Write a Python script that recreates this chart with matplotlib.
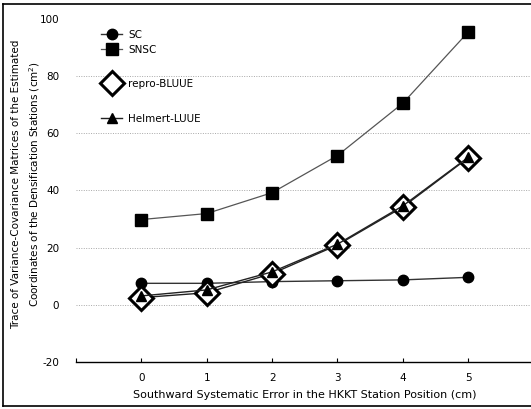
import matplotlib.pyplot as plt
from matplotlib.lines import Line2D

plt.rcParams['font.family'] = ['DejaVu Sans']

# Southward error at HKKT (cm) and trace of the VC matrices (cm^2)
error_cm = [0, 1, 2, 3, 4, 5]
sc = [7.5, 7.5, 8.1, 8.4, 8.7, 9.6]
snsc = [29.8, 31.9, 39.2, 52.2, 70.5, 95.4]
repro_bluue = [2.5, 4.2, 10.9, 20.9, 34.2, 51.4]
helmert_luue = [3.1, 5.2, 11.5, 21.2, 34.6, 51.6]

y_ticks = [-20, 0, 20, 40, 60, 80, 100]
grid_levels = [0, 20, 40, 60, 80]

fig = plt.figure(figsize=(5.31, 4.09), dpi=100)
ax = fig.add_axes([0.143, 0.115, 0.862, 0.839])

for g in grid_levels:
    ax.axhline(g, color='#a8a8a8', lw=0.7, ls=(0, (1, 1.5)), zorder=0)

h_sc, = ax.plot(error_cm, sc, color='#333333', lw=1.0, marker='o', ms=7.5,
                mfc='black', mec='black', label='SC', zorder=3)
h_snsc, = ax.plot(error_cm, snsc, color='#555555', lw=0.9, marker='s', ms=8,
                  mfc='black', mec='black', label='SNSC', zorder=3)
h_bl, = ax.plot(error_cm, repro_bluue, color='#222222', lw=1.0, marker='D', ms=12,
                mfc='white', mec='black', mew=2.2, label='repro-BLUUE', zorder=4)
h_hl, = ax.plot(error_cm, helmert_luue, color='#222222', lw=1.0, marker='^', ms=7,
                mfc='black', mec='black', label='Helmert-LUUE', zorder=5)

ax.set_xlim(-1, 6)
ax.set_ylim(-20, 100)
ax.set_xticks([-1] + error_cm)
ax.set_xticklabels([''] + [str(x) for x in error_cm])
ax.set_yticks(y_ticks)
ax.set_yticklabels([str(v) for v in y_ticks])

for s in ['top', 'right', 'left']:
    ax.spines[s].set_visible(False)
ax.spines['bottom'].set_linewidth(1.0)
ax.tick_params(axis='x', direction='in', length=3, width=0.8, pad=8, labelsize=7.5)
ax.tick_params(axis='y', length=0, pad=12, labelsize=7.5)

ax.set_xlabel('Southward Systematic Error in the HKKT Station Position (cm)',
              fontsize=8, labelpad=5)
fig.text(0.05, 0.55,
         'Trace of Variance-Covariance Matrices of the Estimated\n'
         'Coordinates of the Densification Stations (cm$^2$)',
         rotation=90, ha='center', va='center', ma='center', fontsize=7.5,
         linespacing=1.6)

leg1 = ax.legend(handles=[h_sc, h_snsc], loc='upper left',
                 bbox_to_anchor=(0.035, 0.995), frameon=False, fontsize=7.5,
                 handlelength=2.0, handletextpad=0.6, labelspacing=0.5)
ax.add_artist(leg1)
ax.legend(handles=[h_bl, h_hl], loc='upper left',
          bbox_to_anchor=(0.035, 0.852), frameon=False, fontsize=7.5,
          handlelength=2.0, handletextpad=0.6, labelspacing=2.4)

# outer frame
for xs, ys in [((0.006, 1.0), (0.990, 0.990)),
               ((0.006, 0.006), (0.007, 0.990)),
               ((0.006, 1.0), (0.007, 0.007))]:
    fig.add_artist(Line2D(xs, ys, color='black', lw=1.2, transform=fig.transFigure))

fig.savefig('out.png', dpi=100)
